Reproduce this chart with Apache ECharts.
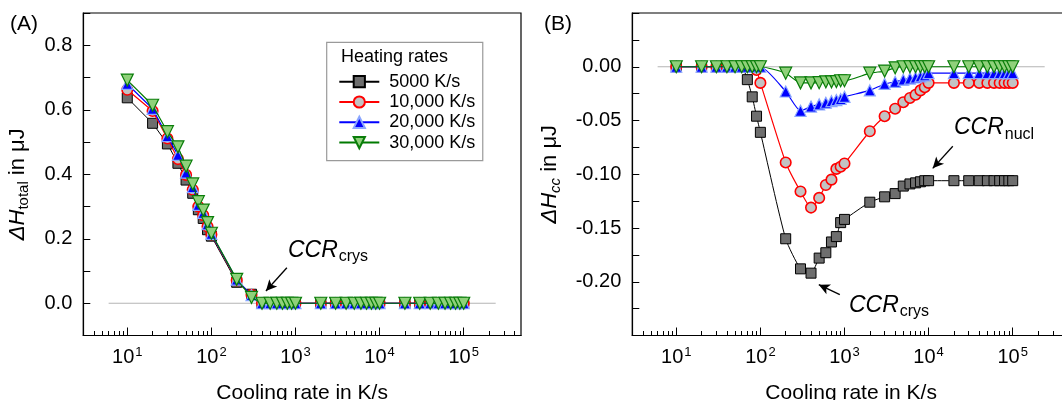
<!DOCTYPE html>
<html><head><meta charset="utf-8">
<script src="https://cdn.jsdelivr.net/npm/echarts@6/dist/echarts.min.js"></script>
<style>html,body{margin:0;padding:0;background:#fff}#c{width:1062px;height:400px}</style>
</head><body><div id="c"></div>
<script>
// ---------- data ----------
const coolingRates = [10,20,30,40,50,60,70,80,90,100,200,300,400,500,600,700,800,900,1000,
  2000,3000,4000,5000,6000,7000,8000,9000,10000,20000,30000,40000,50000,60000,70000,80000,90000,100000];
const seriesNames = ['5000 K/s','10,000 K/s','20,000 K/s','30,000 K/s'];

// Panel A: ΔH_total in µJ
const totalA_5000  = [0.637,0.558,0.494,0.434,0.382,0.341,0.290,0.263,0.228,0.208,0.065,0.028,0,0,0,0,0,0,0,0,0,0,0,0,0,0,0,0,0,0,0,0,0,0,0,0,0];
const totalA_10000 = [0.662,0.596,0.511,0.447,0.398,0.352,0.300,0.273,0.238,0.213,0.071,0.026,0,0,0,0,0,0,0,0,0,0,0,0,0,0,0,0,0,0,0,0,0,0,0,0,0];
const totalA_20000 = [0.680,0.603,0.518,0.460,0.405,0.360,0.305,0.280,0.245,0.215,0.073,0.025,0,0,0,0,0,0,0,0,0,0,0,0,0,0,0,0,0,0,0,0,0,0,0,0,0];
const totalA_30000 = [0.692,0.614,0.532,0.485,0.425,0.370,0.315,0.289,0.250,0.217,0.074,0.018,0,0,0,0,0,0,0,0,0,0,0,0,0,0,0,0,0,0,0,0,0,0,0,0,0];

// Panel B: ΔH_cc in µJ
const ccB_5000  = [0,0,0,0,0,0,-0.012,-0.028,-0.046,-0.061,-0.160,-0.188,-0.192,-0.178,-0.173,-0.163,-0.158,-0.145,-0.142,
  -0.126,-0.121,-0.118,-0.111,-0.109,-0.108,-0.107,-0.106,-0.106,-0.106,-0.106,-0.106,-0.106,-0.106,-0.106,-0.106,-0.106,-0.106];
const ccB_10000 = [0,0,0,0,0,0,0,0,-0.003,-0.015,-0.089,-0.116,-0.131,-0.122,-0.110,-0.105,-0.095,-0.093,-0.090,
  -0.060,-0.046,-0.039,-0.033,-0.029,-0.026,-0.022,-0.019,-0.015,-0.015,-0.015,-0.015,-0.015,-0.015,-0.015,-0.015,-0.015,-0.015];
const ccB_20000 = [0,0,0,0,0,0,0,0,0,0,-0.023,-0.041,-0.037,-0.035,-0.0335,-0.032,-0.031,-0.030,-0.028,
  -0.022,-0.016,-0.014,-0.012,-0.011,-0.010,-0.009,-0.008,-0.006,-0.006,-0.006,-0.006,-0.006,-0.006,-0.006,-0.006,-0.006,-0.006];
const ccB_30000 = [0,0,0,0,0,0,0,0,0,0,-0.006,-0.015,-0.015,-0.0148,-0.014,-0.014,-0.0138,-0.013,-0.013,
  -0.006,-0.004,-0.001,0,0,0,0,0,0,0,0,0,0,0,0,0,0,0];

// reference (zero) line extent
const zeroLineX = [6, 240000];
const zeroLineY = [0, 0];

// axis ticks / labels
const xMajorTicks = [10,100,1000,10000,100000];
const xMinorTicks = [4,5,6,7,8,9,20,30,40,50,60,70,80,90,200,300,400,500,600,700,800,900,
  2000,3000,4000,5000,6000,7000,8000,9000,20000,30000,40000,50000,60000,70000,80000,90000,200000,300000,400000];
const yLabelsA = [0,0.2,0.4,0.6,0.8];
const yLabelsB = [0,-0.05,-0.10,-0.15,-0.20];

// annotations (data coordinates)
const arrowA_crys = [[790,0.11],[445,0.038]];
const labelA_crys = [2436,0.162];
const arrowB_nucl = [[19400,-0.074],[11200,-0.0945]];
const labelB_nucl = [60000,-0.0574];
const arrowB_crys = [[880,-0.212],[495,-0.2027]];
const labelB_crys = [3383,-0.2225];

// ---------- styling ----------
const FONT = '"Liberation Sans", Arial, sans-serif';
const STY = [
  {symbol:'rect', size:10, rot:0, line:'#000000', fill:'#6e6e6e', border:'#000000', bw:1, lw:1},
  {symbol:'circle', size:10.5, rot:0, line:'#ff0000', fill:'#c3c3c3', border:'#ff0000', bw:1.6, lw:1.2},
  {symbol:'triangle', size:11, rot:0, line:'#0000ff', fill:'#0000ff', border:'#8aa6ff', bw:1.2, lw:1.2},
  {symbol:'triangle', size:12, rot:180, line:'#007a00', fill:'#8fd17a', border:'#0a7d0a', bw:1.2, lw:1.2}
];
const XMIN = 3, XMAX = 480000;
const subRich = {
  it:{fontFamily:FONT, fontSize:23, fontStyle:'italic', color:'#000', lineHeight:24, verticalAlign:'top'},
  sub:{fontFamily:FONT, fontSize:16, color:'#000', lineHeight:16, verticalAlign:'top', padding:[10,0,0,1]}
};

function xAxes(gridIndex) {
  return [{
    type:'log', logBase:10, gridIndex, min:XMIN, max:XMAX, position:'bottom',
    axisLine:{show:true, onZero:false, lineStyle:{color:'#000', width:1.2}},
    axisTick:{show:true, inside:true, length:8, customValues:xMajorTicks, lineStyle:{color:'#000', width:1}},
    axisLabel:{customValues:xMajorTicks, margin:12, color:'#000',
      formatter:(v)=>'{b|10}{s|' + Math.round(Math.log10(v)) + '}',
      rich:{b:{fontFamily:FONT, fontSize:20, color:'#000', lineHeight:20, verticalAlign:'top'},
            s:{fontFamily:FONT, fontSize:13, color:'#000', lineHeight:13, verticalAlign:'top', padding:[-2,0,0,1]}}},
    splitLine:{show:false}, minorTick:{show:false},
    name:'Cooling rate in K/s', nameLocation:'middle', nameGap:47,
    nameTextStyle:{fontFamily:FONT, fontSize:21, color:'#000'}
  },{
    type:'log', logBase:10, gridIndex, min:XMIN, max:XMAX, position:'bottom',
    axisLine:{show:false, onZero:false},
    axisTick:{show:true, inside:true, length:4.5, customValues:xMinorTicks, lineStyle:{color:'#000', width:1}},
    axisLabel:{show:false}, splitLine:{show:false}
  }];
}

function yAxis(gridIndex, min, max, interval, labels, digits, nameRich, nameText, gap, pad) {
  return {
    type:'value', gridIndex, min, max, interval,
    axisLine:{show:true, onZero:false, lineStyle:{color:'#000', width:1.2}},
    axisTick:{show:true, inside:true, length:7, lineStyle:{color:'#000', width:1}},
    axisLabel:{customValues:labels, formatter:(v)=>v.toFixed(digits), fontFamily:FONT, fontSize:20, color:'#000', margin:11},
    splitLine:{show:false},
    name:nameText, nameLocation:'middle', nameRotate:90, nameGap:gap,
    nameTextStyle:{fontFamily:FONT, fontSize:22, color:'#000', rich:nameRich, padding:pad}
  };
}

const nameRichA = {
  i:{fontFamily:FONT, fontSize:22, fontStyle:'italic', color:'#000', lineHeight:22, verticalAlign:'top'},
  s:{fontFamily:FONT, fontSize:15, color:'#000', lineHeight:15, verticalAlign:'top', padding:[9,0,0,0]},
  n:{fontFamily:FONT, fontSize:22, color:'#000', lineHeight:22, verticalAlign:'top'}
};
const nameRichB = {
  i:nameRichA.i, n:nameRichA.n,
  s:{fontFamily:FONT, fontSize:15, fontStyle:'italic', color:'#000', lineHeight:15, verticalAlign:'top', padding:[9,0,0,0]}
};

const pairs = (arr) => coolingRates.map((x,i)=>[x, arr[i]]);

function dataSeries(k, arr, xi, yi, smooth) {
  const s = STY[k];
  return {
    type:'line', name:seriesNames[k], xAxisIndex:xi, yAxisIndex:yi,
    data:pairs(arr), symbol:s.symbol, symbolSize:s.size, symbolRotate:s.rot, smooth,
    lineStyle:{color:s.line, width:s.lw},
    itemStyle:{color:s.fill, borderColor:s.border, borderWidth:s.bw},
    emphasis:{disabled:true}, z:3+k
  };
}

function annotation(arrows, labels, subs) {
  return {
    markLine:{silent:true, symbol:['none','arrow'], symbolSize:[8,11], animation:false,
      lineStyle:{color:'#000', width:1.3, type:'solid'}, label:{show:false},
      data:arrows.map(a=>[{coord:a[0]},{coord:a[1]}])},
    markPoint:{silent:true, symbol:'rect', symbolSize:1, itemStyle:{color:'rgba(0,0,0,0)'}, animation:false,
      label:{show:true, position:'inside', rich:subRich},
      data:labels.map((p,i)=>({coord:p, label:{formatter:'{it|CCR}{sub|' + subs[i] + '}'}}))}
  };
}

function zeroSeries(xi, yi, ann) {
  return Object.assign({
    type:'line', name:'zero' + xi, xAxisIndex:xi, yAxisIndex:yi,
    data:zeroLineX.map((x,i)=>[x, zeroLineY[i]]), symbol:'none', silent:true,
    lineStyle:{color:'#b4b4b4', width:1.2}, emphasis:{disabled:true}, z:2
  }, ann);
}

const option = {
  animation:false,
  textStyle:{fontFamily:FONT, color:'#000'},
  title:[
    {text:'(A)', left:10, top:14, padding:0, textStyle:{fontFamily:FONT, fontSize:21, fontWeight:'normal', color:'#000'}},
    {text:'(B)', left:544, top:14, padding:0, textStyle:{fontFamily:FONT, fontSize:21, fontWeight:'normal', color:'#000'}},
    {text:'Heating rates', left:341, top:48.5, padding:0, textStyle:{fontFamily:FONT, fontSize:18, fontWeight:'normal', color:'#000'}}
  ],
  legend:{
    data:seriesNames, orient:'vertical', left:326.7, top:42.3, align:'left',
    padding:[30.4, 7.4, 9, 11.6], itemWidth:40, itemHeight:14, itemGap:2.3,
    borderColor:'#9a9a9a', borderWidth:1.2, backgroundColor:'#fff',
    formatter:(n)=>' ' + n,
    textStyle:{fontFamily:FONT, fontSize:18, color:'#000', lineHeight:18},
    selectedMode:false
  },
  grid:[
    {left:83.3, top:13, width:437.7, height:322.5, show:true, borderColor:'#000', borderWidth:1.2, containLabel:false, outerBoundsMode:'none'},
    {left:632.3, top:13, width:437.7, height:322.5, show:true, borderColor:'#000', borderWidth:1.2, containLabel:false, outerBoundsMode:'none'}
  ],
  xAxis:[...xAxes(0), ...xAxes(1)],
  yAxis:[
    yAxis(0, -0.1, 0.9, 0.1, yLabelsA, 1, nameRichA, '{i|ΔH}{s|total}{n| in μJ}', 54, [0,20,0,0]),
    yAxis(1, -0.25, 0.05, 0.025, yLabelsB, 2, nameRichB, '{i|ΔH}{s|cc}{n| in μJ}', 71, [0,0,0,0])
  ],
  series:[
    zeroSeries(0, 0, annotation([arrowA_crys], [labelA_crys], ['crys'])),
    dataSeries(0, totalA_5000, 0, 0, false),
    dataSeries(1, totalA_10000, 0, 0, false),
    dataSeries(2, totalA_20000, 0, 0, false),
    dataSeries(3, totalA_30000, 0, 0, false),
    zeroSeries(2, 1, annotation([arrowB_nucl, arrowB_crys], [labelB_nucl, labelB_crys], ['nucl','crys'])),
    dataSeries(0, ccB_5000, 2, 1, 0.2),
    dataSeries(1, ccB_10000, 2, 1, 0.2),
    dataSeries(2, ccB_20000, 2, 1, 0.2),
    dataSeries(3, ccB_30000, 2, 1, 0.2)
  ]
};
const chart = echarts.init(document.getElementById('c'), null, {renderer:'canvas', width:1062, height:400});
chart.setOption(option);
</script>
</body></html>
